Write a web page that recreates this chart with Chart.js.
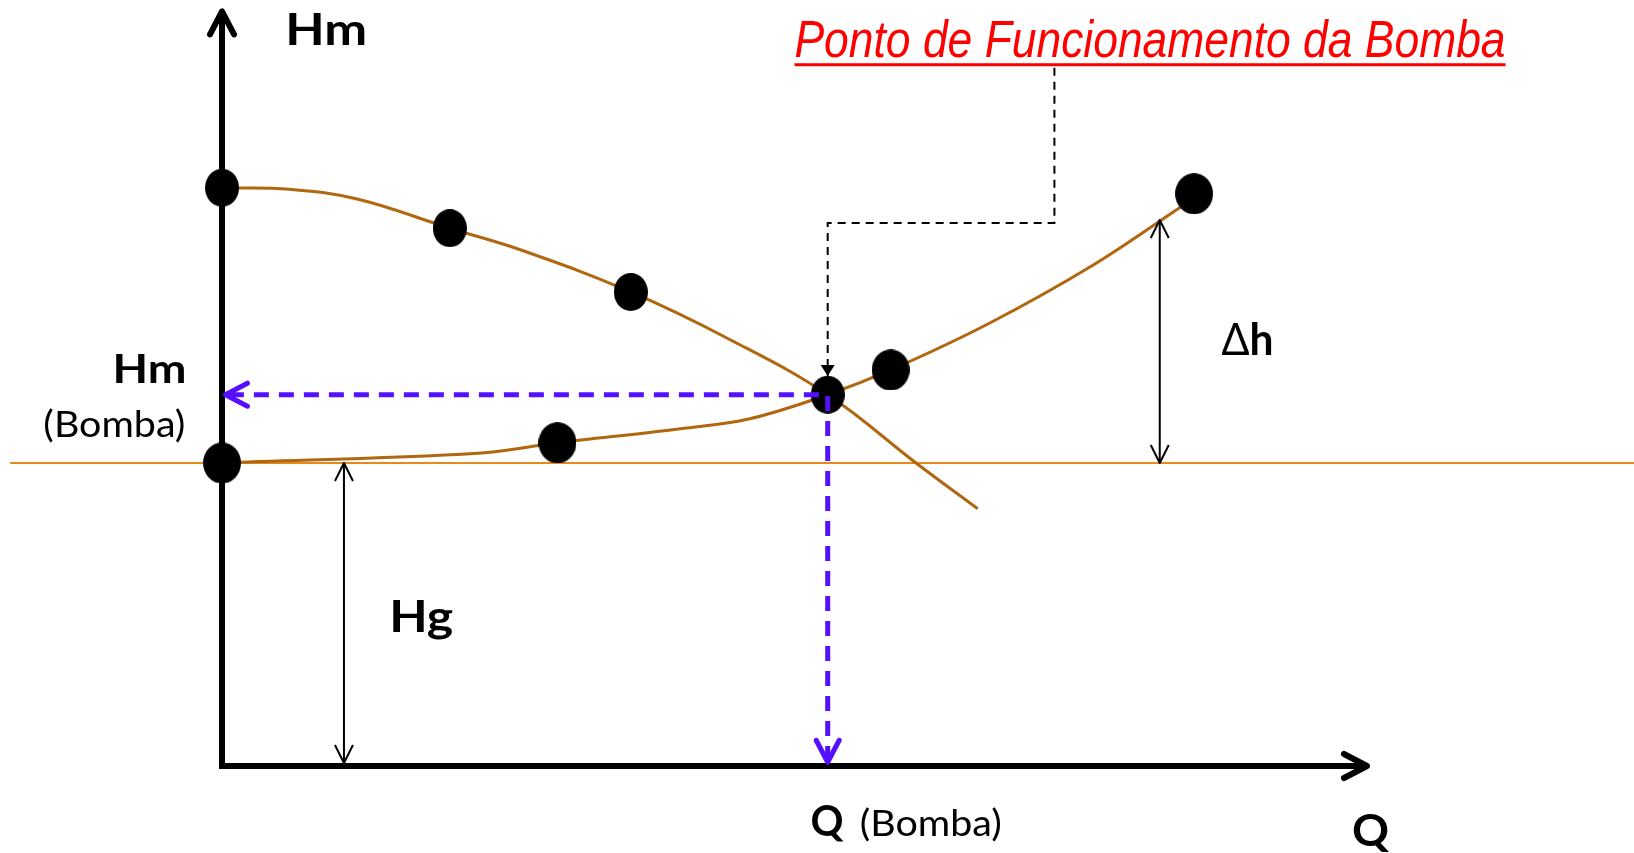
<!DOCTYPE html>
<html>
<head>
<meta charset="utf-8">
<title>Ponto de Funcionamento da Bomba</title>
<script src="https://cdn.jsdelivr.net/npm/chart.js@4.4.1/dist/chart.umd.min.js"></script>
<style>
  html, body { margin: 0; padding: 0; background: #fff; }
  #curva { display: block; }
</style>
</head>
<body>
<canvas id="curva" width="1634" height="853"></canvas>
<script>
// curva da bomba (Q, Hm)
var pumpQ = [0, 5.9, 11.8, 19.9, 26.3, 35.7, 44.3, 52.9, 60.7, 66.0];
var pumpH = [77.1, 76.9, 75.6, 71.7, 68.7, 63.2, 56.9, 49.5, 40.3, 34.3];
var pumpDotQ = [0, 19.9, 35.7];
var pumpDotH = [77.1, 71.7, 63.2];

// curva do sistema (instalacao)
var sysQ = [0, 22.3, 29.3, 39.7, 46.1, 52.9, 58.4, 67.1, 76.2, 83.7];
var sysH = [40.4, 41.7, 43.1, 44.9, 46.3, 49.5, 52.8, 59.1, 66.9, 74.5];
var sysDotQ = [0, 29.3, 58.4, 84.9];
var sysDotH = [40.4, 43.1, 52.8, 76.3];

// ponto de funcionamento, altura geometrica e extremos dos eixos
var opQ = 52.9, opH = 49.5;
var Hg = 40.4;
var hgLineQ = [-18.5, 123.4];
var axisQmax = 100, axisHmax = 100.6;
var hgArrowQ = 10.65;
var dhArrowQ = 81.9, dhTopH = 72.8;
var leaderQ = [72.7, 72.7, opQ, opQ];
var leaderH = [93.1, 72.4, 72.4, 52.0];

function pts(xs, ys) {
  var out = [];
  for (var i = 0; i < xs.length; i++) out.push({x: xs[i], y: ys[i]});
  return out;
}

// bolinhas pretas (elipses ligeiramente achatadas)
function ellipse(w, h) {
  var c = document.createElement('canvas');
  c.width = w; c.height = h;
  var g = c.getContext('2d');
  g.fillStyle = '#000';
  g.beginPath();
  g.ellipse(w / 2, h / 2, w / 2, h / 2, 0, 0, Math.PI * 2);
  g.fill();
  return c;
}
var dotSmall = ellipse(34, 38);
var dotBig = ellipse(38, 41);

function chevron(ctx, x, y, ang, back, side, filled) {
  var dx = Math.cos(ang), dy = Math.sin(ang);
  var bx = x - dx * back, by = y - dy * back;
  ctx.beginPath();
  ctx.moveTo(bx - dy * side, by + dx * side);
  ctx.lineTo(x, y);
  ctx.lineTo(bx + dy * side, by - dx * side);
  if (filled) { ctx.closePath(); ctx.fill(); } else ctx.stroke();
}

function txt(ctx, s, x, y, font, align, fitW) {
  ctx.font = font;
  ctx.textAlign = align || 'left';
  ctx.textBaseline = 'alphabetic';
  if (fitW) {
    var w = ctx.measureText(s).width;
    ctx.save();
    ctx.translate(x, y);
    ctx.scale(fitW / w, 1);
    ctx.fillText(s, 0, 0);
    ctx.restore();
  } else {
    ctx.fillText(s, x, y);
  }
}

var annotations = {
  id: 'annotations',
  afterDatasetsDraw: function(chart) {
    var ctx = chart.ctx, sx = chart.scales.x, sy = chart.scales.y;
    var X = function(v) { return sx.getPixelForValue(v); };
    var Y = function(v) { return sy.getPixelForValue(v); };
    ctx.save();
    ctx.lineCap = 'round';
    ctx.lineJoin = 'round';

    // setas dos eixos
    ctx.strokeStyle = '#000';
    ctx.lineWidth = 6;
    chevron(ctx, X(0), Y(axisHmax), -Math.PI / 2, 23, 12);
    chevron(ctx, X(axisQmax), Y(0), 0, 23, 12);

    // Hg e delta h (setas duplas)
    ctx.lineWidth = 2;
    ctx.lineCap = 'butt';
    ctx.beginPath();
    ctx.moveTo(X(hgArrowQ), Y(Hg)); ctx.lineTo(X(hgArrowQ), Y(0.4));
    ctx.moveTo(X(dhArrowQ), Y(dhTopH)); ctx.lineTo(X(dhArrowQ), Y(Hg));
    ctx.stroke();
    chevron(ctx, X(hgArrowQ), Y(Hg), -Math.PI / 2, 18, 9);
    chevron(ctx, X(hgArrowQ), Y(0.4), Math.PI / 2, 18, 9);
    chevron(ctx, X(dhArrowQ), Y(dhTopH), -Math.PI / 2, 18, 9);
    chevron(ctx, X(dhArrowQ), Y(Hg), Math.PI / 2, 18, 9);

    // seta preenchida da linha de chamada
    ctx.fillStyle = '#000';
    chevron(ctx, X(opQ), Y(leaderH[3]), Math.PI / 2, 11, 7, true);

    // setas azuis
    ctx.strokeStyle = '#5511ff';
    ctx.lineWidth = 5;
    ctx.lineCap = 'round';
    chevron(ctx, X(0.3), Y(opH), Math.PI, 22, 11.5);
    chevron(ctx, X(opQ), Y(0.5), Math.PI / 2, 22, 11.5);

    // textos
    ctx.fillStyle = '#000';
    txt(ctx, 'Hm', X(9.1), Y(96.1), 'bold 44px Lato', 'center', 82);
    txt(ctx, 'Hm', X(-3.1), Y(51.1), 'bold 40px Lato', 'right', 74);
    txt(ctx, '(Bomba)', X(-3.2), Y(43.9), '36px Lato', 'right', 142);
    txt(ctx, 'Hg', X(14.6), Y(17.9), 'bold 44px Lato', 'left', 64);
    txt(ctx, '\u0394', X(87.3), Y(54.8), '44px Lato', 'left', 28);
    txt(ctx, 'h', X(87.3) + 28, Y(54.8), 'bold 44px Lato', 'left', 24);
    txt(ctx, 'Q', X(51.4), Y(-9.3), 'bold 42px Lato', 'left', 33);
    txt(ctx, '(Bomba)', X(55.7), Y(-9.3), '36px Lato', 'left', 142);
    txt(ctx, 'Q', X(98.7), Y(-10.7), 'bold 44px Lato', 'left', 37);

    // titulo sublinhado
    ctx.fillStyle = '#ff0000';
    var tl = X(50.0), tr = X(112.1);
    txt(ctx, 'Ponto de Funcionamento da Bomba', tl, Y(94.5),
        'italic 52px "Liberation Sans Narrow", "Liberation Sans", sans-serif', 'left', tr - tl);
    ctx.fillRect(tl, Y(93.5) - 1.5, tr - tl, 3);

    ctx.restore();
  }
};

var brown = '#b0670f';

new Chart('curva', {
  type: 'scatter',
  data: {
    datasets: [
      { // linha de Hg
        data: pts(hgLineQ, [Hg, Hg]), showLine: true, borderColor: '#e8891c',
        borderWidth: 2, pointRadius: 0, order: 9
      },
      { // eixos
        data: [{x: 0, y: axisHmax}, {x: 0, y: 0}, {x: axisQmax, y: 0}], showLine: true,
        borderColor: '#000', borderWidth: 6, borderJoinStyle: 'miter', pointRadius: 0, order: 8
      },
      {
        label: 'Curva da bomba', data: pts(pumpQ, pumpH), showLine: true,
        borderColor: brown, borderWidth: 3, pointRadius: 0, tension: 0.4, order: 7
      },
      {
        label: 'Curva do sistema', data: pts(sysQ, sysH), showLine: true,
        borderColor: brown, borderWidth: 3, pointRadius: 0, tension: 0.35, order: 7
      },
      { // linha de chamada tracejada
        data: pts(leaderQ, leaderH), showLine: true, borderColor: '#000',
        borderWidth: 2, borderDash: [8, 6], pointRadius: 0, order: 6
      },
      {
        data: pts(pumpDotQ, pumpDotH).concat([{x: opQ, y: opH}]),
        pointStyle: dotSmall, pointRadius: 19, order: 5
      },
      {
        data: pts(sysDotQ, sysDotH), pointStyle: dotBig, pointRadius: 20, order: 5
      },
      { // Hm e Q da bomba
        data: [{x: 0.6, y: opH}, {x: opQ, y: opH}, {x: opQ, y: 0.8}], showLine: true,
        borderColor: '#5511ff', borderWidth: 5, borderDash: [15, 10], pointRadius: 0, order: 1
      }
    ]
  },
  options: {
    responsive: false,
    animation: false,
    events: [],
    layout: { padding: 0, autoPadding: false },
    scales: {
      x: { type: 'linear', min: -19.39, max: 123.32, display: false },
      y: { type: 'linear', min: -11.6, max: 102.13, display: false }
    },
    datasets: { scatter: { clip: false } },
    plugins: { legend: { display: false }, tooltip: { enabled: false } }
  },
  plugins: [annotations]
});
</script>
</body>
</html>
